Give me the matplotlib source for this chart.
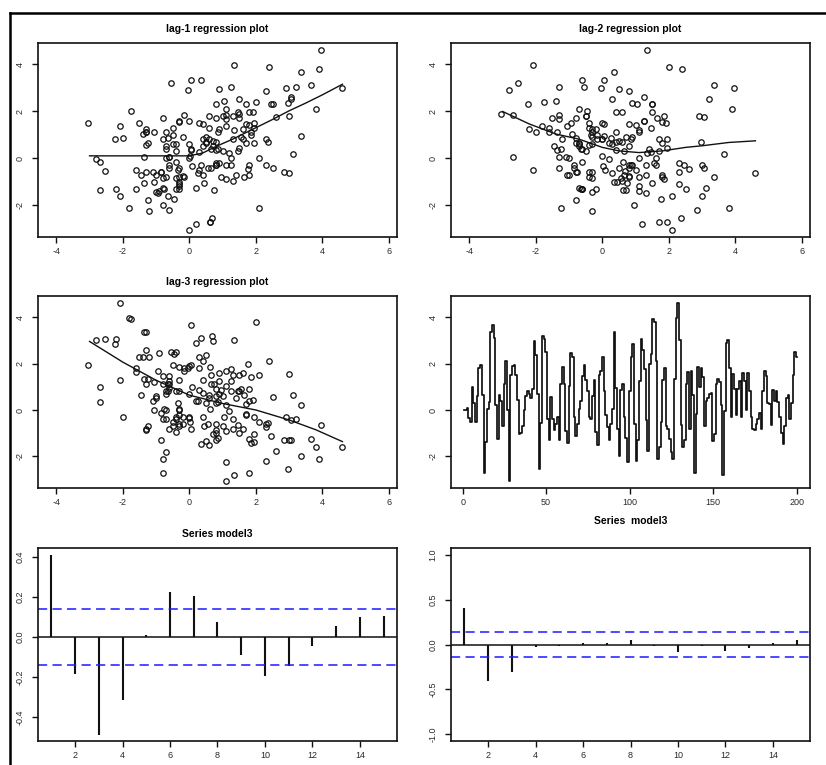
import numpy as np
import matplotlib
matplotlib.use('Agg')
import matplotlib.pyplot as plt
from matplotlib.lines import Line2D

plt.rcParams['font.family'] = ['Liberation Sans', 'DejaVu Sans']
plt.rcParams['axes.unicode_minus'] = False

# series (t = 1..200)
series = [
    0.00, 0.02, 0.08, -0.35, -0.50, 1.00, 0.30, -0.50, 0.60, 1.80,
    1.95, 0.63, -2.70, -1.36, 0.05, 0.36, 3.35, 3.65, 3.10, 0.20,
    -1.25, 0.65, 0.40, -0.70, 1.10, 2.10, 0.00, -3.05, 1.49, 1.90,
    1.95, 1.50, 0.45, -1.05, -1.00, -0.70, 0.00, 0.60, 0.80, 0.70,
    0.50, 0.90, 2.95, 2.35, 0.67, -2.55, -0.54, 3.20, 3.05, 2.50,
    -0.40, -1.30, 0.55, -0.40, -0.85, -0.60, -0.30, -1.30, 1.10, 1.85,
    1.10, -0.90, -1.40, 1.05, 2.45, 2.30, -0.30, -1.10, -0.60, 0.05,
    0.40, 1.45, 1.95, 1.30, 0.80, -0.30, -0.40, 0.60, 1.30, -0.95,
    -1.50, 1.50, 1.70, 2.30, 0.80, -0.20, -0.75, -1.30, -0.60, 0.06,
    3.35, 0.95, -0.80, -2.00, 0.85, 1.10, -0.30, -1.20, -2.25, 0.81,
    2.30, 2.85, -0.60, -2.20, -1.30, 1.25, 3.05, 2.60, 1.75, -0.45,
    -1.75, 2.00, 2.40, 3.90, 3.80, 2.10, -2.10, -1.60, -0.50, 1.30,
    1.80, -0.70, -0.80, -1.25, -1.80, -2.10, 1.35, 3.95, 4.60, 3.00,
    -0.65, -1.60, -1.30, 1.10, 1.65, -0.80, 1.70, 0.63, -2.70, -0.16,
    1.85, 1.00, 1.80, 1.40, -0.70, 0.40, 0.50, 0.70, 0.75, -1.35,
    -1.05, 1.10, 1.35, 1.20, 0.21, -2.80, -0.04, 2.90, 3.00, 1.80,
    -0.30, 1.55, 0.90, -0.20, 0.90, 1.25, -0.30, 1.60, 1.25, 0.00,
    1.60, 0.80, -0.30, -0.80, -0.85, -0.60, -0.40, -0.15, -0.80, 0.80,
    1.70, 1.45, 0.30, 0.25, -0.65, 0.85, 0.40, 0.80, 0.35, -0.30,
    -1.00, -1.45, -0.70, 0.50, 0.65, -0.40, 0.30, 1.50, 2.50, 2.30,
]
time = np.arange(1, len(series) + 1)

# smooth lines in the lag plots
lag1_lx = [-3.0, 0.0, 0.4, 0.8, 1.3, 2.0, 2.5, 3.0, 3.5, 4.0, 4.6]
lag1_ly = [0.10, 0.10, 0.22, 0.50, 0.81, 1.30, 1.65, 2.02, 2.35, 2.70, 3.15]
lag2_lx = [-3.0, -2.2, -1.4, -0.7, 0.0, 0.5, 1.1, 1.8, 2.5, 3.0, 3.8, 4.6]
lag2_ly = [1.99, 1.46, 1.03, 0.81, 0.46, 0.31, 0.24, 0.31, 0.46, 0.53, 0.67, 0.74]
lag3_lx = [-3.0, -2.0, -1.0, 0.0, 1.0, 2.0, 3.0, 3.8, 4.6]
lag3_ly = [2.95, 2.06, 1.28, 0.64, 0.28, 0.00, -0.43, -0.85, -1.36]

# acf / pacf of model3
lags = list(range(1, 16))
acf_vals = [0.41, -0.187, -0.488, -0.314, 0.012, 0.225, 0.207, 0.074,
            -0.091, -0.193, -0.144, -0.045, 0.053, 0.099, 0.104]
pacf_vals = [0.407, -0.407, -0.304, -0.033, -0.018, 0.018, 0.018, 0.055,
             -0.018, -0.085, -0.018, -0.074, -0.044, 0.018, 0.055]
conf_band = 0.138

W, H = 826, 765


def box(left, top, right, bottom):
    return [left / W, 1 - bottom / H, (right - left) / W, (bottom - top) / H]


def r_style(ax):
    for s in ax.spines.values():
        s.set_linewidth(1.2)
        s.set_color('#111111')
    ax.tick_params(direction='out', length=4, width=1.0, labelsize=6.5,
                   colors='#111111', labelcolor='#2a2a2a')
    ax.tick_params(axis='x', pad=3.5)
    ax.tick_params(axis='y', pad=5.5)
    plt.setp(ax.get_yticklabels(), rotation=90, va='center')


def lag_panel(ax, k, lx, ly, title):
    x = np.array(series)
    ax.plot(x[:-k], x[k:], 'o', mfc='none', mec='#111111', ms=3.9, mew=0.9)
    ax.plot(lx, ly, color='#111111', lw=1.0)
    ax.set_xlim(-4.55, 6.24)
    ax.margins(y=0.04)
    ax.set_xticks([-4, -2, 0, 2, 4, 6])
    ax.set_yticks([-2, 0, 2, 4])
    ax.set_title(title, fontsize=7.5, fontweight='bold', pad=8)
    r_style(ax)


def corr_panel(ax, vals, ylim, yticks, title, tpad):
    ax.vlines(lags, 0, vals, color='#111111', lw=1.5)
    ax.axhline(0, color='#111111', lw=1.1)
    ax.axhline(conf_band, color='#1a1aff', lw=1.1, ls=(0, (6, 3.5)))
    ax.axhline(-conf_band, color='#1a1aff', lw=1.1, ls=(0, (6, 3.5)))
    ax.set_xlim(0.44, 15.56)
    ax.set_ylim(*ylim)
    ax.set_xticks([2, 4, 6, 8, 10, 12, 14])
    ax.set_yticks(yticks)
    ax.set_yticklabels(['%.1f' % v for v in yticks])
    ax.set_title(title, fontsize=7.5, fontweight='bold', pad=tpad)
    r_style(ax)


fig = plt.figure(figsize=(W / 100, H / 100), dpi=100)

ax1 = fig.add_axes(box(38, 43, 397, 237))
lag_panel(ax1, 1, lag1_lx, lag1_ly, 'lag-1 regression plot')

ax2 = fig.add_axes(box(451, 43, 810, 237))
lag_panel(ax2, 2, lag2_lx, lag2_ly, 'lag-2 regression plot')

ax3 = fig.add_axes(box(38, 296, 397, 488))
lag_panel(ax3, 3, lag3_lx, lag3_ly, 'lag-3 regression plot')

ax4 = fig.add_axes(box(451, 296, 810, 488))
ax4.plot(time, series, color='#111111', lw=1.25, drawstyle='steps-mid')
ax4.margins(x=0.04, y=0.04)
ax4.set_xticks([0, 50, 100, 150, 200])
ax4.set_yticks([-2, 0, 2, 4])
r_style(ax4)

ax5 = fig.add_axes(box(38, 548, 397, 741))
corr_panel(ax5, acf_vals, (-0.52, 0.445), [-0.4, -0.2, 0.0, 0.2, 0.4],
           'Series model3', 8)

ax6 = fig.add_axes(box(451, 548, 810, 741))
corr_panel(ax6, pacf_vals, (-1.08, 1.08), [-1.0, -0.5, 0.0, 0.5, 1.0],
           'Series  model3', 17)

# outer frame (left and top edges visible)
fig.add_artist(Line2D([10 / W, 10 / W], [0, 1 - 13 / H], color='black', lw=1.8))
fig.add_artist(Line2D([10 / W, 1], [1 - 13 / H, 1 - 13 / H], color='black', lw=1.8))

fig.savefig('out.png', dpi=100)
